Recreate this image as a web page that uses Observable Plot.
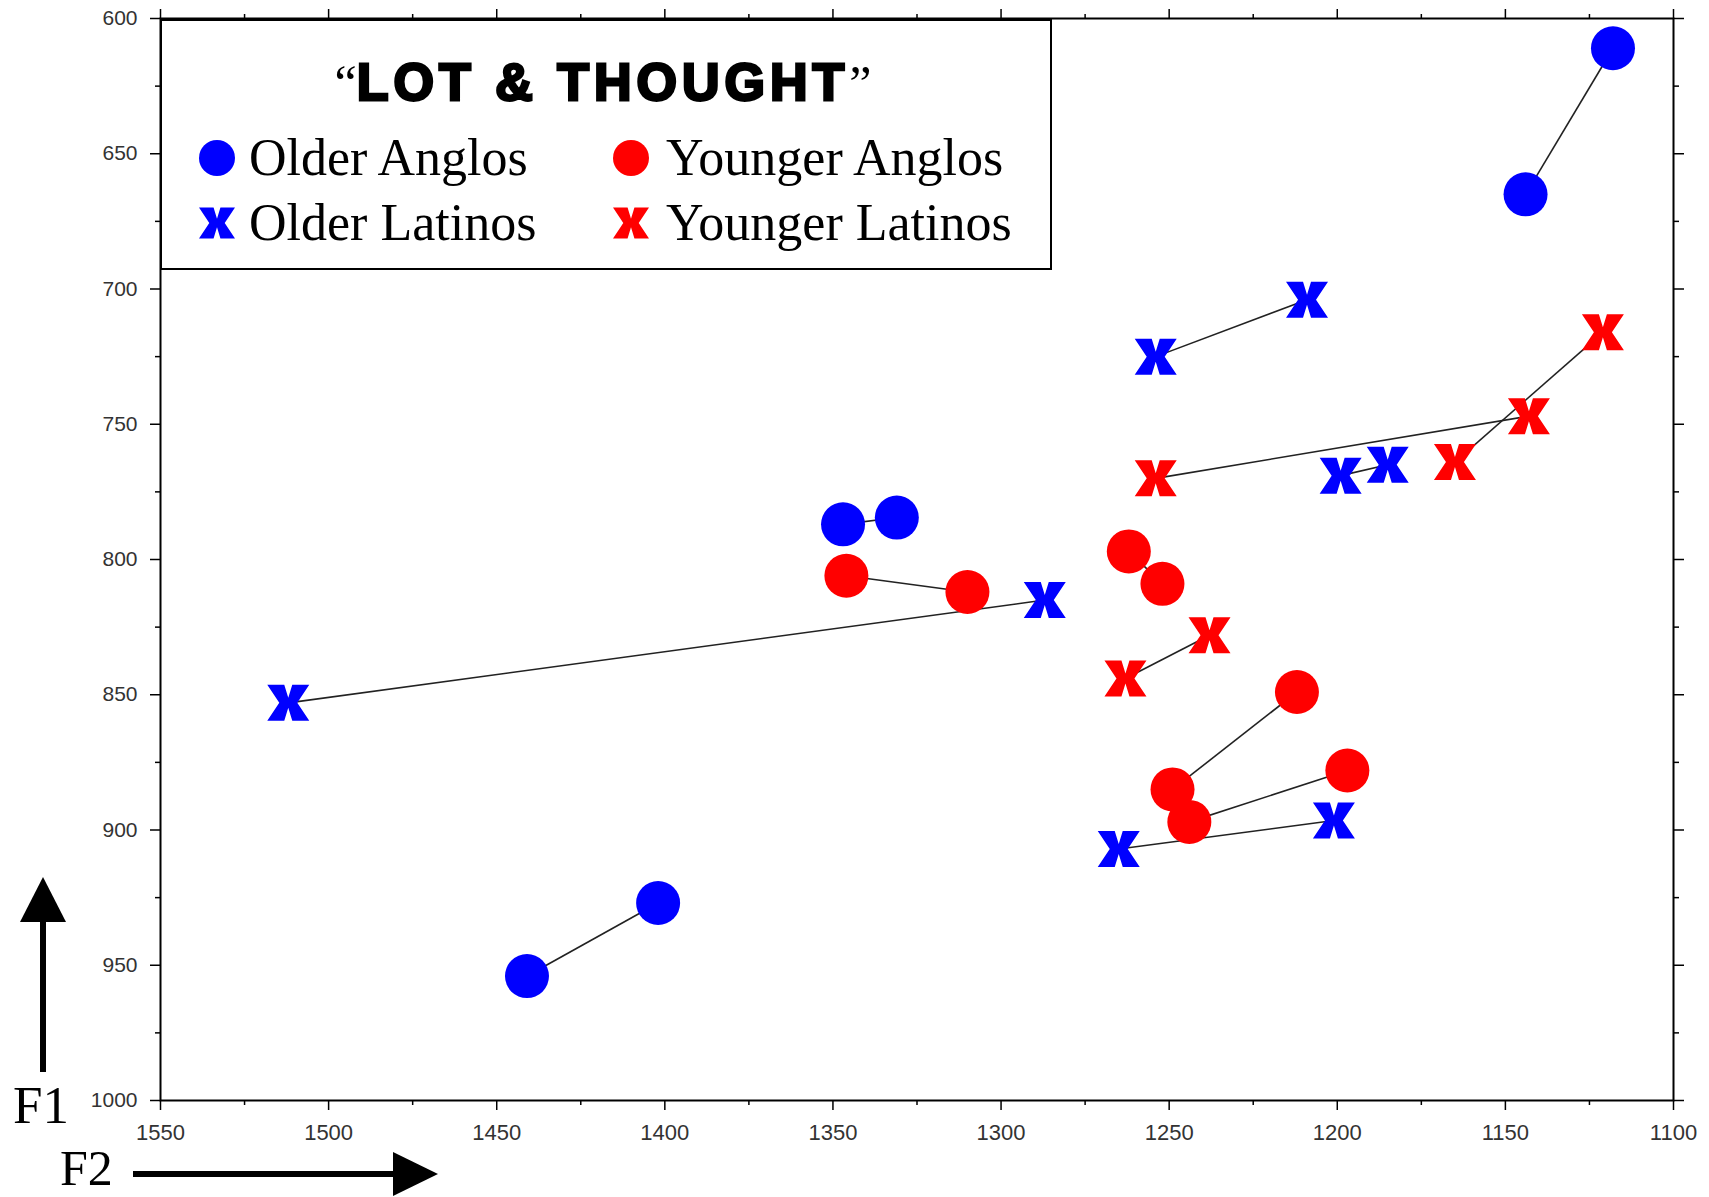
<!DOCTYPE html>
<html>
<head>
<meta charset="utf-8">
<script src="https://cdn.jsdelivr.net/npm/d3@7"></script>
<script src="https://cdn.jsdelivr.net/npm/@observablehq/plot@0.6"></script>
<style>
  html, body { margin: 0; padding: 0; background: #fff; }
  #chart { width: 1709px; height: 1197px; overflow: hidden; }
</style>
</head>
<body>
<div id="chart"></div>
<script>
// ---------- Data (F2 in Hz on x, F1 in Hz on y); each group = pairs of points joined by a line ----------
const groups = ["Older Anglos", "Younger Anglos", "Older Latinos", "Younger Latinos"];
const chartTitle = "LOT & THOUGHT";

const olderAnglosF2a = [1118, 1347, 1402];
const olderAnglosF1a = [611, 787, 927];
const olderAnglosF2b = [1144, 1331, 1441];
const olderAnglosF1b = [665, 784.5, 954];

const youngerAnglosF2a = [1262, 1346, 1212, 1197];
const youngerAnglosF1a = [797, 806, 849, 878];
const youngerAnglosF2b = [1252, 1310, 1249, 1244];
const youngerAnglosF1b = [809, 812, 885, 897];

const olderLatinosF2a = [1209, 1185, 1287, 1201];
const olderLatinosF1a = [704, 765, 815, 896.5];
const olderLatinosF2b = [1254, 1199, 1512, 1265];
const olderLatinosF1b = [725, 769, 853, 907];

const youngerLatinosF2a = [1121, 1143, 1238];
const youngerLatinosF1a = [716, 747, 828];
const youngerLatinosF2b = [1165, 1254, 1263];
const youngerLatinosF1b = [764, 770, 844];

const xMajorTicks = [1550, 1500, 1450, 1400, 1350, 1300, 1250, 1200, 1150, 1100];
const xMinorTicks = [1525, 1475, 1425, 1375, 1325, 1275, 1225, 1175, 1125];
const yMajorTicks = [600, 650, 700, 750, 800, 850, 900, 950, 1000];
const yMinorTicks = [625, 675, 725, 775, 825, 875, 925, 975];

// ---------- Build tables ----------
const series = [
  [groups[0], olderAnglosF2a, olderAnglosF1a, olderAnglosF2b, olderAnglosF1b],
  [groups[1], youngerAnglosF2a, youngerAnglosF1a, youngerAnglosF2b, youngerAnglosF1b],
  [groups[2], olderLatinosF2a, olderLatinosF1a, olderLatinosF2b, olderLatinosF1b],
  [groups[3], youngerLatinosF2a, youngerLatinosF1a, youngerLatinosF2b, youngerLatinosF1b]
];
const links = [];
const points = [];
for (const [group, f2a, f1a, f2b, f1b] of series) {
  f2a.forEach((_, i) => {
    links.push({group, F2a: f2a[i], F1a: f1a[i], F2b: f2b[i], F1b: f1b[i]});
    points.push({group, F2: f2a[i], F1: f1a[i]});
    points.push({group, F2: f2b[i], F1: f1b[i]});
  });
}
const circles = points.filter(d => d.group.endsWith("Anglos"));
const crosses = points.filter(d => d.group.endsWith("Latinos"));

// Bold "x" glyph as a custom symbol
const xPts = [[-21,-18],[-4,-18],[0,-5],[4,-18],[21,-18],[9,0],[21,18],[4,18],[0,5],[-4,18],[-21,18],[-9,0]];
const boldX = {
  draw(ctx, size) {
    const r = Math.sqrt(size / Math.PI), k = r / 21;
    ctx.moveTo(xPts[0][0] * k, xPts[0][1] * k);
    for (let i = 1; i < xPts.length; i++) ctx.lineTo(xPts[i][0] * k, xPts[i][1] * k);
    ctx.closePath();
  }
};

const W = 1709, H = 1197;
const colorScale = {domain: groups, range: ["#0000ff", "#ff0000", "#0000ff", "#ff0000"]};

const svg = Plot.plot({
  width: W, height: H,
  marginLeft: 160, marginTop: 18, marginRight: 36, marginBottom: 97,
  style: {fontFamily: "'Liberation Sans', Arial, sans-serif", color: "black", background: "white"},
  x: {domain: [1550, 1100]},
  y: {domain: [1000, 600]},
  color: colorScale,
  marks: [
    Plot.axisX({ticks: xMajorTicks, tickSize: 10, tickPadding: 14, fontSize: 22, fill: "#333", strokeWidth: 1.5, label: null, tickFormat: d => String(d)}),
    Plot.axisX({ticks: xMinorTicks, tickSize: 5, strokeWidth: 1.5, label: null, tickFormat: () => ""}),
    Plot.axisX({anchor: "top", ticks: xMajorTicks, tickSize: 10, strokeWidth: 1.5, label: null, tickFormat: () => ""}),
    Plot.axisX({anchor: "top", ticks: xMinorTicks, tickSize: 5, strokeWidth: 1.5, label: null, tickFormat: () => ""}),
    Plot.axisY({ticks: yMajorTicks, tickSize: 10, tickPadding: 13, fontSize: 21, fill: "#333", strokeWidth: 1.5, label: null, tickFormat: d => String(d)}),
    Plot.axisY({ticks: yMinorTicks, tickSize: 5, strokeWidth: 1.5, label: null, tickFormat: () => ""}),
    Plot.axisY({anchor: "right", ticks: yMajorTicks, tickSize: 10, strokeWidth: 1.5, label: null, tickFormat: () => ""}),
    Plot.axisY({anchor: "right", ticks: yMinorTicks, tickSize: 5, strokeWidth: 1.5, label: null, tickFormat: () => ""}),
    Plot.link(links, {x1: "F2a", y1: "F1a", x2: "F2b", y2: "F1b", stroke: "#222", strokeWidth: 1.6}),
    Plot.dot(circles, {x: "F2", y: "F1", r: 22, symbol: "circle", fill: "group", stroke: null}),
    Plot.dot(crosses, {x: "F2", y: "F1", r: 21, symbol: boldX, fill: "group", stroke: null}),
    Plot.frame({stroke: "black", strokeWidth: 2})
  ]
});

// ---------- Legend box (inside the plot, top-left) and F1 / F2 arrows ----------
const serif = "'Liberation Serif', 'Times New Roman', serif";
const s = d3.select(svg);
const lg = s.append("g").attr("text-anchor", "start");
lg.append("rect").attr("x", 161).attr("y", 20).attr("width", 890).attr("height", 249)
  .attr("fill", "white").attr("stroke", "black").attr("stroke-width", 2);
const title = lg.append("text").attr("x", 603).attr("y", 100).attr("text-anchor", "middle").attr("fill", "black");
title.append("tspan").attr("font-family", serif).attr("font-size", 50).text("\u201C");
title.append("tspan").attr("font-family", "'Liberation Sans', Arial, sans-serif").attr("font-weight", "bold")
  .attr("font-size", 52).attr("stroke", "black").attr("stroke-width", 2.8).attr("letter-spacing", 5).text(chartTitle);
title.append("tspan").attr("font-family", serif).attr("font-size", 50).text("\u201D");

const legendPos = [[217, 158, 249, 175], [631, 158, 666, 175], [217, 223, 249, 240], [631, 223, 666, 240]];
groups.forEach((g, i) => {
  const [mx, my, tx, ty] = legendPos[i];
  const col = colorScale.range[i];
  if (g.endsWith("Anglos")) {
    lg.append("circle").attr("cx", mx).attr("cy", my).attr("r", 18).attr("fill", col);
  } else {
    const p = d3.path();
    boldX.draw(p, Math.PI * 18 * 18);
    lg.append("path").attr("d", p.toString()).attr("transform", `translate(${mx},${my})`).attr("fill", col);
  }
  lg.append("text").attr("x", tx).attr("y", ty).attr("text-anchor", "start").attr("font-family", serif)
    .attr("font-size", 52).attr("fill", "black").text(g);
});

const ann = s.append("g").attr("text-anchor", "start");
// F1 arrow (pointing up)
ann.append("rect").attr("x", 40).attr("y", 918).attr("width", 6).attr("height", 154).attr("fill", "black");
ann.append("path").attr("d", "M43,877 L66,922 L20,922 Z").attr("fill", "black");
ann.append("text").attr("x", 13).attr("y", 1123).attr("text-anchor", "start").attr("font-family", serif)
  .attr("font-size", 53).attr("fill", "black").text("F1");
// F2 arrow (pointing right)
ann.append("rect").attr("x", 133).attr("y", 1171).attr("width", 264).attr("height", 6).attr("fill", "black");
ann.append("path").attr("d", "M393,1152 L438,1174 L393,1196 Z").attr("fill", "black");
ann.append("text").attr("x", 60).attr("y", 1185).attr("text-anchor", "start").attr("font-family", serif)
  .attr("font-size", 50).attr("fill", "black").text("F2");

document.getElementById("chart").appendChild(svg);
</script>
</body>
</html>
